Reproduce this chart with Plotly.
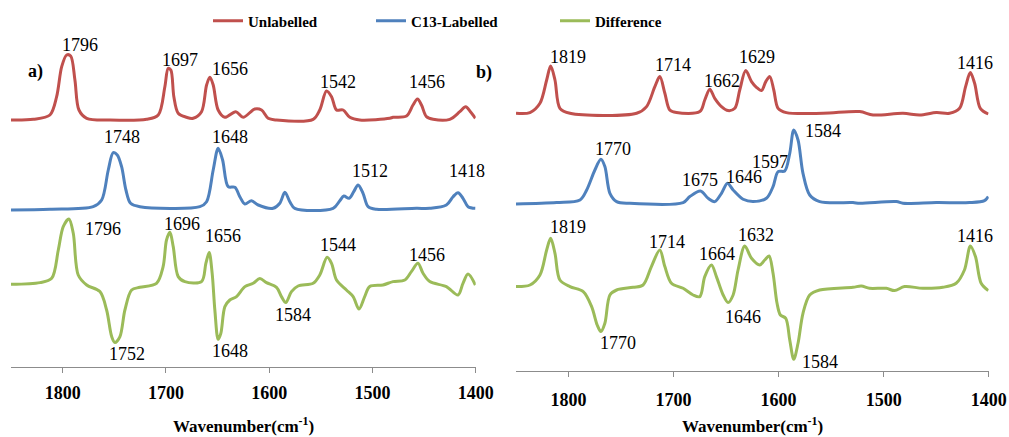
import plotly.graph_objects as go

# ---------------- data (wavenumber cm-1, relative absorbance) ----------------
# Panel a)
a_unl_w = [1850,1828.4,1812.3,1805.8,1800.9,1796.1,1792.2,1788.1,1784.2,1776.7,1754.2,1718.7,1707.4,1701,1697.8,1695.2,1692.3,1688.1,1680,1673.6,1665.5,1660.6,1657.4,1654.2,1649.4,1642.9,1632.3,1625.2,1613.9,1607.4,1601,1592.9,1557.4,1551,1544.5,1539.6,1534.8,1528.4,1521.9,1512.2,1483.2,1480,1467,1460.7,1456.4,1452.5,1447.7,1441.2,1425.1,1415.4,1409.7,1405.1,1400.3]
a_unl_i = [0,0.007,0.05,0.233,0.533,0.65,0.64,0.40,0.10,0.017,0,0.007,0.05,0.333,0.517,0.5,0.233,0.067,0.027,0.017,0.083,0.35,0.427,0.35,0.10,0.027,0.083,0.027,0.11,0.10,0.017,0,0.007,0.1,0.29,0.233,0.10,0.10,0.027,0,0.017,0.027,0.04,0.15,0.21,0.15,0.033,0.007,0.007,0.083,0.133,0.083,0.017]

a_lab_w = [1850,1812.3,1770.4,1762.2,1755.8,1751,1747.1,1742.9,1738.7,1734.2,1725.2,1667.1,1660.6,1654.2,1649.4,1645.1,1639.7,1633.2,1628.4,1623.5,1617.1,1610.6,1596.1,1589.7,1584.8,1580,1575.2,1538.1,1531.6,1527.7,1522.6,1518.1,1513.9,1509.1,1504.2,1496.1,1457.4,1444.5,1428.4,1421.9,1417.1,1412.3,1407.4,1400.3]
a_lab_i = [0,0.007,0.033,0.10,0.40,0.573,0.55,0.433,0.20,0.067,0.033,0.033,0.083,0.40,0.617,0.50,0.233,0.227,0.133,0.06,0.093,0.05,0.017,0.067,0.177,0.083,0.017,0.017,0.093,0.14,0.117,0.183,0.25,0.167,0.033,0.007,0.017,0.017,0.05,0.133,0.173,0.117,0.033,0.017]

a_dif_w = [1850,1821.9,1810.6,1804.2,1799.4,1793.9,1789.7,1784.9,1776.7,1763.9,1757.4,1752.5,1749.4,1744.5,1739.7,1733.2,1725.2,1709.1,1702.7,1699.4,1696.1,1692.9,1688.1,1681.6,1665.5,1661.3,1658.1,1655.2,1652.6,1649.4,1646.8,1642.9,1638.1,1631.6,1623.5,1615.5,1609,1602.6,1592.9,1588.1,1583.9,1578.4,1572,1557.4,1551,1543.9,1539.6,1534.8,1525.2,1518.7,1513,1507.5,1502.6,1489.8,1480.1,1468.7,1462.3,1455.9,1451,1444.5,1428.4,1417.1,1412.3,1407.4,1400.3]
a_dif_i = [-0.01,0.007,0.05,0.333,0.567,0.643,0.50,0.083,-0.017,-0.083,-0.267,-0.533,-0.593,-0.533,-0.267,-0.067,-0.04,0,0.167,0.433,0.51,0.367,0.067,0.017,0.017,0.20,0.307,0.10,-0.267,-0.56,-0.50,-0.233,-0.167,-0.133,-0.033,0,0.047,0.007,-0.04,-0.133,-0.193,-0.083,-0.027,0,0.083,0.26,0.20,0.033,-0.067,-0.133,-0.257,-0.133,-0.033,-0.017,0.017,0.033,0.117,0.20,0.10,0.017,-0.033,-0.117,0,0.093,-0.017]

# Panel b)
b_unl_w = [1850,1836.7,1827.2,1820.8,1817,1812.9,1808.2,1798.6,1735.2,1725.7,1717.8,1713.1,1708.3,1703.6,1697.2,1675,1670.3,1665.5,1660.8,1654.4,1648.1,1641.7,1637,1631.3,1625.8,1621.1,1616.3,1612.2,1608.4,1604.6,1600.5,1592.6,1557.7,1522.8,1510.1,1481.6,1465.7,1449.8,1437.2,1427.7,1422,1417.5,1413.4,1408,1400.4]
b_unl_i = [0,0.007,0.10,0.333,0.473,0.333,0.05,0,0,0.067,0.267,0.367,0.20,0.033,0.007,0.017,0.133,0.24,0.15,0.067,0.027,0.05,0.233,0.427,0.317,0.26,0.227,0.317,0.367,0.233,0.05,0.007,0,0.017,-0.017,0,-0.017,0.007,0,0.05,0.267,0.407,0.30,0.05,-0.007]

b_lab_w = [1850,1811.3,1789.1,1782.7,1774.9,1769.2,1765.4,1760.6,1754.2,1741.6,1690.9,1684.5,1674.4,1667.1,1660.8,1654.4,1648.7,1643.3,1633.8,1624.3,1611.6,1605.3,1600.5,1594.2,1589.4,1585.6,1581.5,1576.8,1570.4,1560.9,1529.2,1522.8,1487.9,1481.6,1449.8,1418.2,1404,1400.4]
b_lab_i = [-0.007,0.007,0.033,0.133,0.333,0.44,0.367,0.10,0.017,0,0.007,0.067,0.123,0.05,0.017,0.10,0.20,0.133,0.04,0.017,0.05,0.167,0.317,0.323,0.50,0.733,0.633,0.30,0.083,0.017,0.007,0,0.017,0,0.007,0.007,0.027,0.067]

b_dif_w = [1850,1836.7,1827.2,1820.8,1817,1812.9,1808.2,1798.6,1786,1778,1772.7,1769.2,1765.4,1760.6,1754.2,1738.5,1729,1721.1,1713.1,1708.3,1702,1690.9,1681.4,1675,1670.3,1663.9,1659.2,1652.8,1648.1,1643.3,1638.6,1632.2,1625.8,1617.9,1613.2,1609.1,1605.3,1601.5,1598.3,1593.2,1589.4,1585.6,1581.5,1576.8,1570.4,1560.9,1529.2,1521.3,1513.4,1497.5,1489.6,1480.1,1462.7,1443.7,1431,1423.1,1417.4,1412.6,1407.2,1400.4]
b_dif_i = [0.007,0.023,0.123,0.373,0.49,0.34,0.073,0.007,-0.043,-0.193,-0.377,-0.443,-0.36,-0.077,-0.027,0,0.023,0.207,0.373,0.207,0.04,-0.01,-0.077,-0.093,0.107,0.223,0.107,-0.077,-0.153,-0.077,0.173,0.413,0.29,0.223,0.273,0.313,0.14,-0.16,-0.277,-0.31,-0.527,-0.72,-0.56,-0.26,-0.077,-0.027,0,0.013,-0.01,-0.01,-0.033,0.007,-0.01,0,0.04,0.173,0.413,0.307,0.04,-0.033]

series_names = ["Unlabelled", "C13-Labelled", "Difference"]
xticks = [1800, 1700, 1600, 1500, 1400]
x_title = "Wavenumber(cm<sup>-1</sup>)"

# peak labels: text, and their anchor positions (wavenumber, plot height)
a_lbl_text = ["1796","1697","1656","1542","1456","1748","1648","1512","1418",
              "1796","1696","1656","1544","1456","1752","1648","1584"]
a_lbl_x = [1783.2,1686.4,1638.1,1533.5,1447.4,1742.6,1638.1,1502.6,1408.7,
           1761.0,1684.5,1644.8,1533.5,1447.4,1737.7,1638.1,1577.1]
a_lbl_y = [3.22,3.07,2.98,2.85,2.85,2.30,2.30,1.96,1.96,
           1.38,1.43,1.31,1.22,1.12,0.13,0.16,0.52]

b_lbl_text = ["1819","1714","1662","1629","1416","1770","1675","1646","1597","1584",
              "1819","1714","1664","1632","1416","1770","1646","1584"]
b_lbl_x = [1800.8,1700.7,1654.1,1620.8,1412.6,1757.8,1675.0,1633.2,1608.5,1558.1,
           1800.8,1706.7,1658.2,1621.1,1412.6,1753.0,1634.1,1560.2]
b_lbl_y = [3.14,3.06,2.90,3.14,3.08,2.22,1.91,1.94,2.09,2.40,
           1.443,1.293,1.17,1.36,1.353,0.28,0.543,0.093]

for w, i in [(a_unl_w, a_unl_i), (a_lab_w, a_lab_i), (a_dif_w, a_dif_i),
             (b_unl_w, b_unl_i), (b_lab_w, b_lab_i), (b_dif_w, b_dif_i)]:
    assert len(w) == len(i), (len(w), len(i))

# ---------------- styling ----------------
COLORS = ["#C0504D", "#4F81BD", "#9BBB59"]
FONT = "Liberation Serif"
W, H = 1009, 437
a_offsets = [2.47, 1.57, 0.837]
b_offsets = [2.577, 1.677, 0.837]

fig = go.Figure()
legends = ["legend", "legend2", "legend3"]

panel_a = [(a_unl_w, a_unl_i), (a_lab_w, a_lab_i), (a_dif_w, a_dif_i)]
panel_b = [(b_unl_w, b_unl_i), (b_lab_w, b_lab_i), (b_dif_w, b_dif_i)]

for k, (w, i) in enumerate(panel_a):
    fig.add_trace(go.Scatter(
        x=w, y=[v + a_offsets[k] for v in i], mode="lines",
        line=dict(color=COLORS[k], width=3, shape="spline", smoothing=0.9),
        name=series_names[k], legend=legends[k], showlegend=True,
        xaxis="x", yaxis="y", hoverinfo="skip"))
for k, (w, i) in enumerate(panel_b):
    fig.add_trace(go.Scatter(
        x=w, y=[v + b_offsets[k] for v in i], mode="lines",
        line=dict(color=COLORS[k], width=3, shape="spline", smoothing=0.9),
        name=series_names[k], showlegend=False,
        xaxis="x2", yaxis="y2", hoverinfo="skip"))

annotations = []
for t, x, y in zip(a_lbl_text, a_lbl_x, a_lbl_y):
    annotations.append(dict(text=t, x=x, y=y, xref="x", yref="y", showarrow=False,
                            font=dict(family=FONT, size=18, color="black")))
for t, x, y in zip(b_lbl_text, b_lbl_x, b_lbl_y):
    annotations.append(dict(text=t, x=x, y=y, xref="x2", yref="y2", showarrow=False,
                            font=dict(family=FONT, size=18, color="black")))
bold18 = dict(family=FONT, size=18, color="black", weight="bold")
annotations.append(dict(text="a)", x=26 / W, y=1 - 59 / H, xref="paper", yref="paper",
                        showarrow=False, font=bold18))
annotations.append(dict(text="b)", x=484 / W, y=1 - 60 / H, xref="paper", yref="paper",
                        showarrow=False, font=bold18))
# axis titles under each panel
title_font = dict(family=FONT, size=17, color="black", weight="bold")
annotations.append(dict(text=x_title, x=0.5, y=1 - 425 / H, xref="x domain", yref="paper",
                        yanchor="middle", showarrow=False, font=title_font))
annotations.append(dict(text=x_title, x=0.5, y=1 - 425 / H, xref="x2 domain", yref="paper",
                        yanchor="middle", showarrow=False, font=title_font))

xaxis_common = dict(
    range=[1850, 1400], tickvals=xticks, ticktext=[str(t) for t in xticks],
    showgrid=False, zeroline=False, showline=True, linecolor="#8c8c8c", linewidth=1,
    ticks="outside", ticklen=5, tickcolor="#8c8c8c",
    tickfont=bold18, automargin=False, fixedrange=True,
)
yaxis_common = dict(visible=False, showgrid=False, zeroline=False, automargin=False, fixedrange=True)

legend_common = dict(orientation="h", yanchor="middle", xanchor="left", y=1 - 21 / H,
                     bgcolor="rgba(0,0,0,0)", borderwidth=0,
                     font=dict(family=FONT, size=15, color="black", weight="bold"))

fig.update_layout(
    width=W, height=H,
    font=dict(family=FONT, color="black"),
    margin=dict(l=0, r=0, t=0, b=0),
    paper_bgcolor="white", plot_bgcolor="white",
    xaxis=dict(domain=[11 / W, 475.7 / W], anchor="y", ticklabelstandoff=4, **xaxis_common),
    yaxis=dict(domain=[(H - 367) / H, (H - 30) / H], range=[0, 3.37], anchor="x", **yaxis_common),
    xaxis2=dict(domain=[516 / W, 988.7 / W], anchor="y2", ticklabelstandoff=7, **xaxis_common),
    yaxis2=dict(domain=[(H - 371) / H, (H - 30) / H], range=[0, 3.41], anchor="x2", **yaxis_common),
    legend=dict(x=208 / W, **legend_common),
    legend2=dict(x=371 / W, **legend_common),
    legend3=dict(x=555 / W, **legend_common),
    annotations=annotations,
    showlegend=True,
)

fig.write_html("out.html")
